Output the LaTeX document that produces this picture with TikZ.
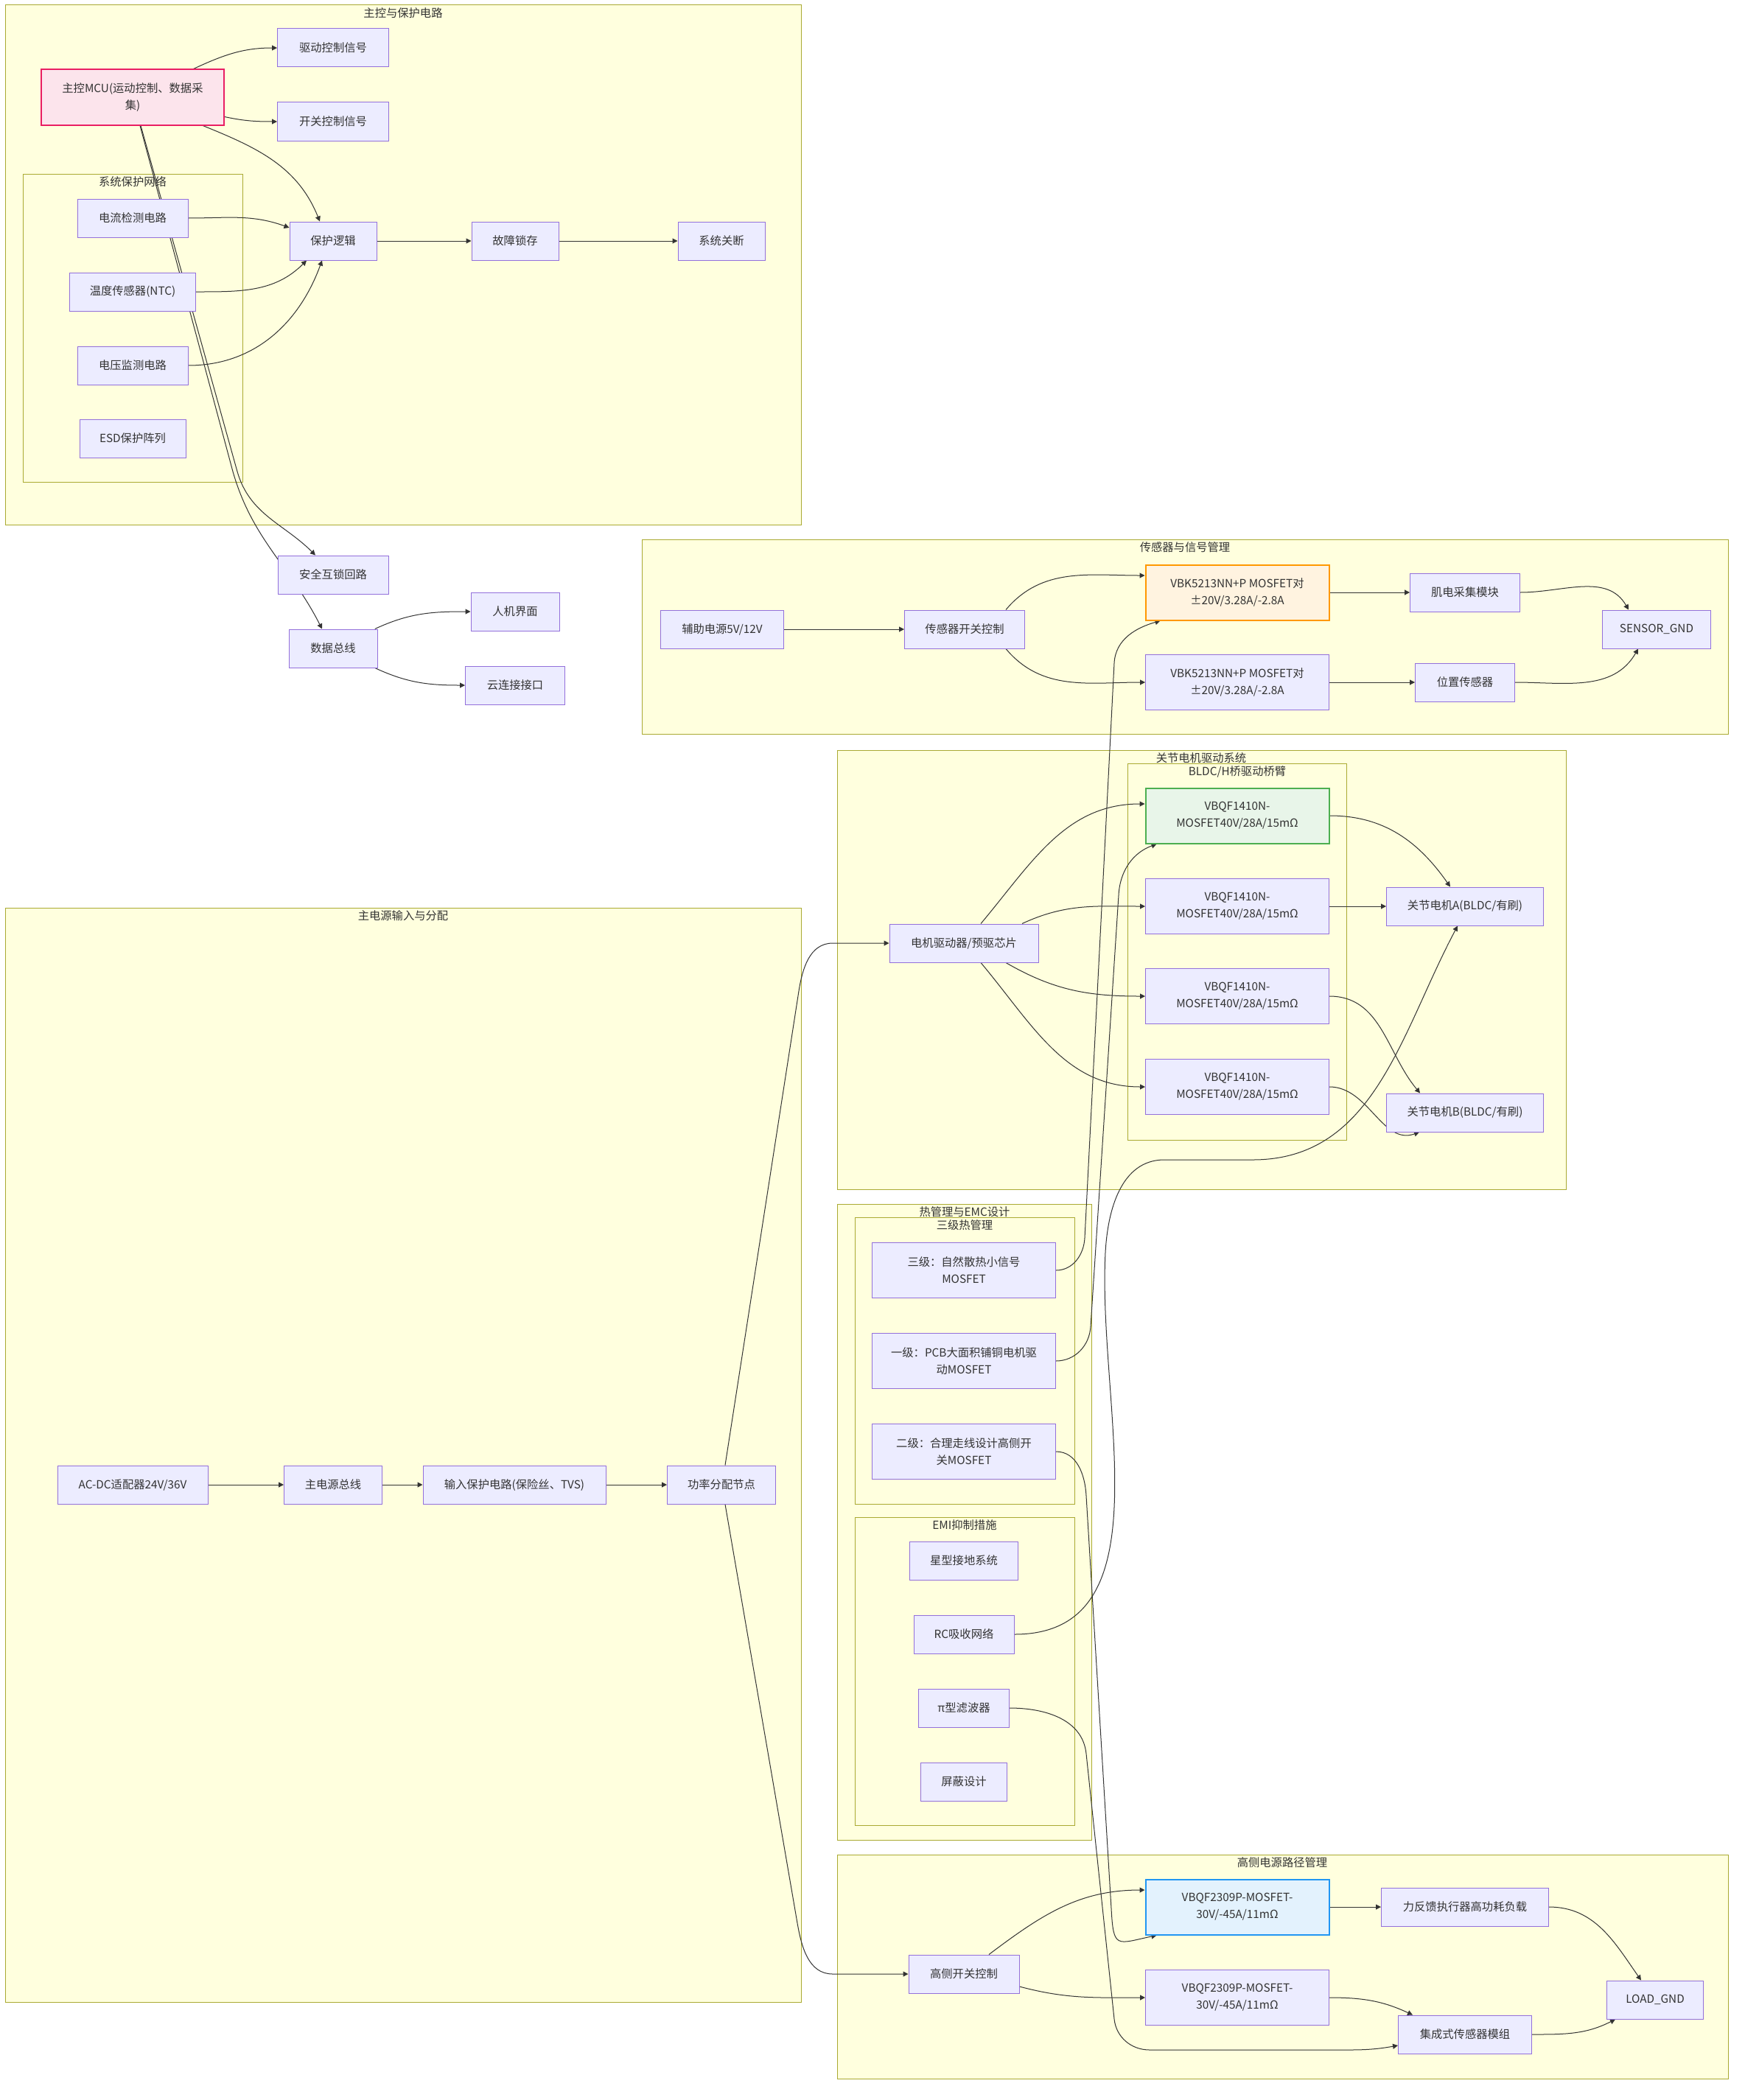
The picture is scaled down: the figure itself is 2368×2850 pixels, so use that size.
\documentclass[tikz,border=0pt]{standalone}
\usepackage{fontspec}
\setmainfont{Noto Sans CJK SC}
\usetikzlibrary{arrows.meta}
\definecolor{grpfill}{HTML}{FFFFDE}
\definecolor{grpline}{HTML}{AAAA33}
\definecolor{boxfill}{HTML}{ECECFF}
\definecolor{boxline}{HTML}{9370DB}
\definecolor{ink}{HTML}{333333}
\definecolor{mcufill}{HTML}{FCE4EC}
\definecolor{mculine}{HTML}{E91E63}
\definecolor{sigfill}{HTML}{FFF3E0}
\definecolor{sigline}{HTML}{FF9800}
\definecolor{drvfill}{HTML}{E8F5E9}
\definecolor{drvline}{HTML}{4CAF50}
\definecolor{hsfill}{HTML}{E3F2FD}
\definecolor{hsline}{HTML}{2196F3}
\pgfdeclarelayer{back}
\pgfdeclarelayer{wires}
\pgfsetlayers{back,wires,main}

\begin{document}
\begin{tikzpicture}[x=1pt,y=-1pt,
  box/.style={draw=boxline,fill=boxfill,line width=1pt,minimum height=52pt,inner sep=0pt,align=center,text=ink,font=\fontsize{15.3}{23}\selectfont},
  tall/.style={minimum height=75pt},
  grp/.style={draw=grpline,fill=grpfill,line width=1pt},
  grptitle/.style={anchor=north,inner sep=0pt,text=ink,font=\fontsize{15.3}{18}\selectfont},
  link/.style={draw=ink,line width=1pt,-{Triangle[length=7pt,width=7pt]}}]
\useasboundingbox (0,0) rectangle (2368,2850);

\begin{pgfonlayer}{back}
\fill[white] (0,0) rectangle (2368,2850);
\draw[grp] (7,7) rectangle (1087,712);
\node[grptitle] (tctrl) at (547,10) {主控与保护电路};
\draw[grp] (31,236) rectangle (329,654);
\node[grptitle] (tprot) at (180,239) {系统保护网络};
\draw[grp] (871,732) rectangle (2345,996);
\node[grptitle] (tsens) at (1608,735) {传感器与信号管理};
\draw[grp] (1136,1018) rectangle (2125,1614);
\node[grptitle] (tmot) at (1630,1021) {关节电机驱动系统};
\draw[grp] (1530,1036) rectangle (1827,1547);
\node[grptitle] (tbr) at (1679,1039) {BLDC/H桥驱动桥臂};
\draw[grp] (1136,1634) rectangle (1481,2497);
\node[grptitle] (ttherm) at (1309,1637) {热管理与EMC设计};
\draw[grp] (1160,1652) rectangle (1458,2041);
\node[grptitle] (theat) at (1309,1655) {三级热管理};
\draw[grp] (1160,2059) rectangle (1458,2477);
\node[grptitle] (temi) at (1309,2062) {EMI抑制措施};
\draw[grp] (7,1232) rectangle (1087,2717);
\node[grptitle] (tpow) at (547,1235) {主电源输入与分配};
\draw[grp] (1136,2517) rectangle (2345,2821);
\node[grptitle] (thigh) at (1740,2520) {高侧电源路径管理};
\end{pgfonlayer}

% main control
\node[box,tall,minimum width=248pt,draw=mculine,fill=mcufill,line width=2pt] (mcu) at (180,132) {主控MCU(运动控制、数据采\\集)};
\node[box,minimum width=151pt] (dsig) at (452,65) {驱动控制信号};
\node[box,minimum width=151pt] (ssig) at (452,165) {开关控制信号};
\node[box,minimum width=150pt] (cur) at (180,296) {电流检测电路};
\node[box,minimum width=171pt] (ntc) at (180,396) {温度传感器(NTC)};
\node[box,minimum width=150pt] (volt) at (180,496) {电压监测电路};
\node[box,minimum width=144pt] (esd) at (180,595) {ESD保护阵列};
\node[box,minimum width=118pt] (prot) at (452,327) {保护逻辑};
\node[box,minimum width=118pt] (latch) at (699,327) {故障锁存};
\node[box,minimum width=118pt] (shut) at (979,327) {系统关断};
\node[box,minimum width=150pt] (lock) at (452,780) {安全互锁回路};
\node[box,minimum width=120pt] (bus) at (452,880) {数据总线};
\node[box,minimum width=120pt] (hmi) at (699,830) {人机界面};
\node[box,minimum width=135pt] (cloud) at (699,930) {云连接接口};

% sensors
\node[box,minimum width=167pt] (aux) at (980,854) {辅助电源5V/12V};
\node[box,minimum width=163pt] (ssw) at (1309,854) {传感器开关控制};
\node[box,tall,minimum width=249pt,draw=sigline,fill=sigfill,line width=2pt] (vbka) at (1679,804) {VBK5213NN+P MOSFET对\\±20V/3.28A/-2.8A};
\node[box,tall,minimum width=249pt] (vbkb) at (1679,926) {VBK5213NN+P MOSFET对\\±20V/3.28A/-2.8A};
\node[box,minimum width=149pt] (emg) at (1988,804) {肌电采集模块};
\node[box,minimum width=135pt] (pos) at (1988,926) {位置传感器};
\node[box,minimum width=147pt] (sgnd) at (2248,854) {SENSOR\_GND};

% motors
\node[box,minimum width=202pt] (drv) at (1308,1280) {电机驱动器/预驱芯片};
\node[box,tall,minimum width=249pt,draw=drvline,fill=drvfill,line width=2pt] (m1) at (1679,1107) {VBQF1410N-\\MOSFET40V/28A/15mΩ};
\node[box,tall,minimum width=249pt] (m2) at (1679,1230) {VBQF1410N-\\MOSFET40V/28A/15mΩ};
\node[box,tall,minimum width=249pt] (m3) at (1679,1352) {VBQF1410N-\\MOSFET40V/28A/15mΩ};
\node[box,tall,minimum width=249pt] (m4) at (1679,1475) {VBQF1410N-\\MOSFET40V/28A/15mΩ};
\node[box,minimum width=213pt] (mA) at (1988,1230) {关节电机A(BLDC/有刷)};
\node[box,minimum width=213pt] (mB) at (1988,1510) {关节电机B(BLDC/有刷)};

% thermal / emc
\node[box,tall,minimum width=249pt] (l3) at (1308,1724) {三级：自然散热小信号\\MOSFET};
\node[box,tall,minimum width=249pt] (l1) at (1308,1847) {一级：PCB大面积铺铜电机驱\\动MOSFET};
\node[box,tall,minimum width=249pt] (l2) at (1308,1970) {二级：合理走线设计高侧开\\关MOSFET};
\node[box,minimum width=147pt] (star) at (1308,2118) {星型接地系统};
\node[box,minimum width=136pt] (rc) at (1308,2218) {RC吸收网络};
\node[box,minimum width=123pt] (pi) at (1308,2318) {π型滤波器};
\node[box,minimum width=117pt] (shield) at (1308,2418) {屏蔽设计};

% power input
\node[box,minimum width=204pt] (acdc) at (180,2015) {AC-DC适配器24V/36V};
\node[box,minimum width=133pt] (mbus) at (452,2015) {主电源总线};
\node[box,minimum width=248pt] (inprot) at (698,2015) {输入保护电路(保险丝、TVS)};
\node[box,minimum width=147pt] (pdn) at (979,2015) {功率分配节点};

% high side
\node[box,minimum width=150pt] (hsw) at (1308,2679) {高侧开关控制};
\node[box,tall,minimum width=249pt,draw=hsline,fill=hsfill,line width=2pt] (vbqa) at (1679,2588) {VBQF2309P-MOSFET-\\30V/-45A/11mΩ};
\node[box,tall,minimum width=249pt] (vbqb) at (1679,2711) {VBQF2309P-MOSFET-\\30V/-45A/11mΩ};
\node[box,minimum width=227pt] (load) at (1988,2588) {力反馈执行器高功耗负载};
\node[box,minimum width=181pt] (sens) at (1988,2761) {集成式传感器模组};
\node[box,minimum width=131pt] (lgnd) at (2246,2714) {LOAD\_GND};

\begin{pgfonlayer}{wires}
\draw[link] (mcu) to[out=25,in=180] (dsig);
\draw[link] (mcu) to[out=-12,in=180] (ssig);
\draw[link] (mcu) to[out=-22,in=112] ([xshift=-18pt]prot.north);
\draw[link] (cur) to[out=0,in=160] ([yshift=18pt]prot.west);
\draw[link] (ntc) to[out=0,in=-135] ([xshift=-36pt]prot.south);
\draw[link] (volt) to[out=0,in=-110] ([xshift=-15pt]prot.south);
\draw[link] (prot) -- (latch);
\draw[link] (latch) -- (shut);
\draw[link] ([xshift=11pt]mcu.south) -- (322,640) to[out=-74,in=135] ([xshift=-24pt]lock.north);
\draw[link] ([xshift=10pt]mcu.south) -- (316,640) to[out=-74,in=117] ([xshift=-15pt]bus.north);
\draw[link] (bus) to[out=25,in=180] (hmi);
\draw[link] (bus) to[out=-25,in=180] (cloud);

\draw[link] (aux) -- (ssw);
\draw[link] ([xshift=56pt]ssw.north) to[out=50,in=180] ([yshift=23pt]vbka.west);
\draw[link] ([xshift=56pt]ssw.south) to[out=-50,in=180] (vbkb.west);
\draw[link] (vbka) -- (emg);
\draw[link] (vbkb) -- (pos);
\draw[link] (emg) to[out=0,in=120] ([xshift=-38pt]sgnd.north);
\draw[link] (pos) to[out=0,in=-120] ([xshift=-25pt]sgnd.south);

\draw[link] (acdc) -- (mbus);
\draw[link] (mbus) -- (inprot);
\draw[link] (inprot) -- (pdn);
\draw[link] ([xshift=5pt]pdn.north) -- (1084,1345) to[out=81,in=180] (1130,1280) -- (drv.west);
\draw[link] ([xshift=5pt]pdn.south) -- (1082,2610) to[out=-80,in=180] (1130,2679) -- (hsw.west);

\draw[link] ([xshift=23pt]drv.north) to[out=50,in=180] ([yshift=16pt]m1.west);
\draw[link] ([xshift=79pt]drv.north) to[out=25,in=180] (m2.west);
\draw[link] ([xshift=57pt]drv.south) to[out=-30,in=180] (m3.west);
\draw[link] ([xshift=23pt]drv.south) to[out=-50,in=180] (m4.west);
\draw[link] (m1) to[out=0,in=125] ([xshift=-20pt]mA.north);
\draw[link] (m2) -- (mA);
\draw[link] (m3) to[out=0,in=130] ([xshift=-61pt]mB.north);
\draw[link] (m4) to[out=0,in=-160] ([xshift=-62pt]mB.south);

\draw[link] (l3) to[out=0,in=-93] (1472,1680) -- (1512,900) to[out=87,in=-164] ([xshift=21pt]vbka.south west);
\draw[link] (l1) to[out=0,in=-93] (1480,1800) -- (1518,1215) to[out=87,in=-160] ([xshift=16pt]m1.south west);
\draw[link] (l2) to[out=0,in=93] (1474,2030) -- (1508,2590) to[out=-87,in=-168,looseness=2] ([xshift=16pt]vbqa.south west);
\draw[link] (rc) to[out=0,in=-93] (1500,1700) to[out=87,in=180] (1580,1574) -- (1700,1574) to[out=0,in=-118] ([xshift=-10pt]mA.south);
\draw[link] (pi) to[out=0,in=96] (1474,2380) -- (1512,2740) to[out=-84,in=180] (1560,2782) -- (1830,2782) to[out=0,in=190] ([yshift=-15pt]sens.west);

\draw[link] ([xshift=34pt]hsw.north) to[out=37,in=180] ([yshift=23pt]vbqa.west);
\draw[link] ([yshift=-17pt]hsw.east) to[out=-15,in=180] (vbqb.west);
\draw[link] (vbqa) -- (load);
\draw[link] (load) to[out=0,in=125] ([xshift=-19pt]lgnd.north);
\draw[link] (vbqb) to[out=0,in=155] ([xshift=-71pt]sens.north);
\draw[link] (sens) to[out=0,in=-153] ([xshift=-54pt]lgnd.south);
\end{pgfonlayer}

\end{tikzpicture}
\end{document}
